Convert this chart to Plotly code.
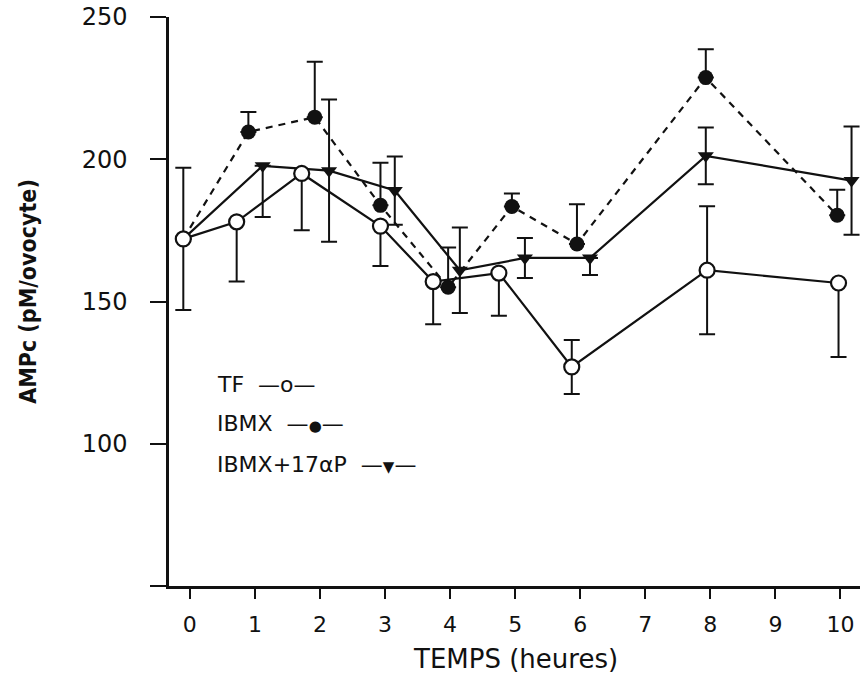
import plotly.graph_objects as go

# ---- data ----
tf_t  = [-0.1, 0.72, 1.72, 2.93, 3.74, 4.75, 5.87, 7.95, 9.97]
tf_y  = [172, 178, 195, 176.5, 157, 160, 127, 161, 156.5]
tf_up = [25, 0, 0, 0, 0, 0, 9.5, 22.5, 0]
tf_dn = [25, 21, 20, 14, 15, 15, 9.5, 22.5, 26]

ibmx_t  = [-0.1, 0.9, 1.92, 2.93, 3.97, 4.95, 5.95, 7.93, 9.95]
ibmx_y  = [172, 209.6, 214.8, 183.8, 155, 183.4, 170.2, 228.7, 180.3]
ibmx_up = [0, 7, 19.5, 15, 14, 4.6, 14, 10, 9]
ibmx_dn = [0, 0, 0, 0, 0, 0, 0, 0, 0]

tri_t  = [-0.1, 1.12, 2.14, 3.15, 4.15, 5.15, 6.15, 7.93, 10.17]
tri_y  = [172, 197.7, 196, 189, 161, 165.3, 165.3, 201.2, 192.5]
tri_up = [0, 0, 25, 12, 15, 7, 0, 10, 19]
tri_dn = [0, 18, 25, 12, 15, 7, 6, 10, 19]

x_ticks = list(range(0, 11))
y_ticks = [50, 100, 150, 200, 250]
y_ticktext = ["", "100", "150", "200", "250"]

legend_labels = ["TF  \u2014o\u2014",
                 "IBMX  \u2014<span style='font-size:15px'>\u25cf</span>\u2014",
                 "IBMX+17\u03b1P  \u2014<span style='font-size:15px'>\u25bc</span>\u2014"]

FONT = "DejaVu Sans, Verdana, sans-serif"
INK = "#111111"

def eb(up, dn):
    return dict(type="data", symmetric=False, array=up, arrayminus=dn,
                color=INK, thickness=2, width=8)

fig = go.Figure()

fig.add_trace(go.Scatter(
    x=ibmx_t, y=ibmx_y, mode="lines+markers",
    line=dict(color=INK, width=2.2, dash="7px,6px"),
    marker=dict(symbol="circle", color=INK, opacity=1,
                size=[0] + [15] * (len(ibmx_t) - 1),
                line=dict(width=0)),
    error_y=eb(ibmx_up, ibmx_dn), showlegend=False))

fig.add_trace(go.Scatter(
    x=tri_t, y=tri_y, mode="lines+markers",
    line=dict(color=INK, width=2.2),
    marker=dict(symbol="triangle-down", color=INK, opacity=1,
                size=[0] + [14] * (len(tri_t) - 1),
                line=dict(width=0)),
    error_y=eb(tri_up, tri_dn), showlegend=False))

fig.add_trace(go.Scatter(
    x=tf_t, y=tf_y, mode="lines+markers",
    line=dict(color=INK, width=2.2),
    marker=dict(symbol="circle", color="white", size=15, opacity=1,
                line=dict(color=INK, width=2.2)),
    error_y=eb(tf_up, tf_dn), showlegend=False))

legend_y = [0.354, 0.286, 0.214]
for lab, yy in zip(legend_labels, legend_y):
    fig.add_annotation(text=lab, xref="paper", yref="paper", x=0.0666, y=yy,
                       xanchor="left", yanchor="middle", showarrow=False,
                       font=dict(family=FONT, size=22, color=INK))

fig.add_annotation(text="TEMPS (heures)", xref="paper", yref="paper",
                   x=0.502, y=-0.129, xanchor="center", yanchor="middle",
                   showarrow=False, font=dict(family=FONT, size=26, color=INK))

fig.add_annotation(text="<b>AMPc (pM/ovocyte)</b>", xref="paper", yref="paper",
                   x=-0.204, y=0.517, xanchor="center", yanchor="middle",
                   textangle=-90, showarrow=False,
                   font=dict(family="DejaVu Sans Condensed, DejaVu Sans, sans-serif",
                             size=23, color=INK))

fig.update_layout(
    width=863, height=680,
    margin=dict(l=169, r=3, t=12, b=94),
    paper_bgcolor="white", plot_bgcolor="white",
    font=dict(family=FONT, color=INK),
    xaxis=dict(range=[-0.32, 10.3], tickvals=x_ticks, ticks="outside",
               ticklen=10, tickwidth=1.5, tickcolor=INK,
               showline=True, linecolor=INK, linewidth=2.5,
               showgrid=False, zeroline=False,
               tickfont=dict(family=FONT, size=22, color=INK),
               ticklabelstandoff=7),
    yaxis=dict(range=[50, 250], tickvals=y_ticks, ticktext=y_ticktext,
               ticks="outside", ticklen=16, tickwidth=1.5, tickcolor=INK,
               showline=True, linecolor=INK, linewidth=2.5,
               showgrid=False, zeroline=False,
               tickfont=dict(family=FONT, size=24, color=INK),
               ticklabelstandoff=18, ticklabeloverflow="allow"),
)

fig.write_html("out.html")
